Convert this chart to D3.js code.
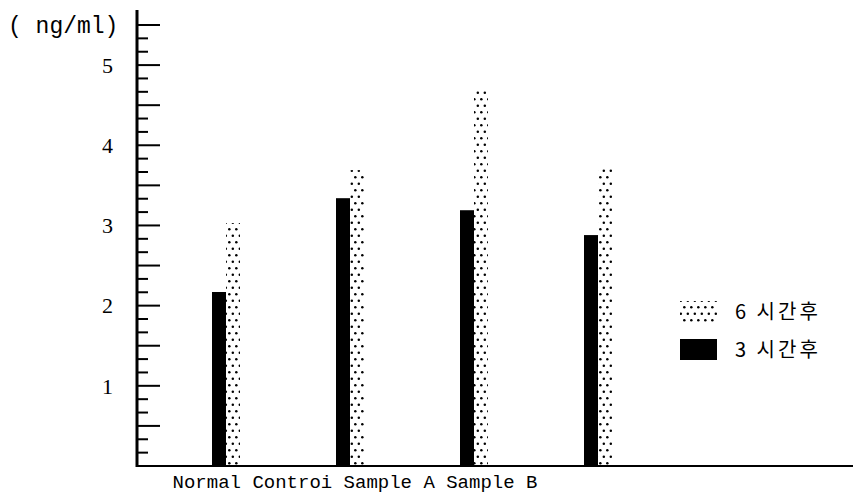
<!DOCTYPE html>
<html><head><meta charset="utf-8">
<script src="https://cdn.jsdelivr.net/npm/d3@7"></script>
<style>body{margin:0;background:#fff}</style>
</head><body>
<svg id="c" width="853" height="503"></svg>
<script>
const categories = ["Normal", "Controi", "Sample A", "Sample B"];
const series3h = [2.17, 3.34, 3.19, 2.88];
const series6h = [3.03, 3.69, 4.70, 3.73];
const seriesNames = ["6 시간후", "3 시간후"];
const yLabels = [1, 2, 3, 4, 5];
const unitLabel = "( ng/ml)";

const svg = d3.select("#c");
const defs = svg.append("defs");
const pat = defs.append("pattern").attr("id","dots").attr("patternUnits","userSpaceOnUse")
  .attr("width",7).attr("height",13);
pat.append("circle").attr("cx",1.8).attr("cy",1.8).attr("r",1.25).attr("fill","#000");
pat.append("circle").attr("cx",5.3).attr("cy",8.3).attr("r",1.25).attr("fill","#000");

const axisX = 137, base = 466;
const y = d3.scaleLinear().domain([0, 5.5]).range([base, 25]);
const x = d3.scalePoint().domain(categories).range([226, 598]);
const bw = 14;

// bars
const g = svg.append("g");
g.selectAll(".b3").data(categories).join("rect")
  .attr("x", d => x(d) - bw).attr("width", bw)
  .attr("y", (d,i) => y(series3h[i])).attr("height", (d,i) => base - y(series3h[i]))
  .attr("fill", "#000");
g.selectAll(".b6").data(categories).join("rect")
  .attr("x", d => x(d)).attr("width", bw)
  .attr("y", (d,i) => y(series6h[i])).attr("height", (d,i) => base - y(series6h[i]))
  .attr("fill", "url(#dots)");

// axes
svg.append("line").attr("x1",axisX).attr("x2",axisX).attr("y1",10).attr("y2",base+1)
  .attr("stroke","#000").attr("stroke-width",3);
svg.append("line").attr("x1",axisX-1).attr("x2",853).attr("y1",base).attr("y2",base)
  .attr("stroke","#000").attr("stroke-width",2);

const tickVals = d3.range(1, 34).map(i => i/6);
svg.selectAll(".tk").data(tickVals).join("line")
  .attr("x1", axisX).attr("x2", (d,i) => axisX + (((i+1)%3===0) ? 23 : 11))
  .attr("y1", d => y(d)).attr("y2", d => y(d))
  .attr("stroke","#000").attr("stroke-width",2);

svg.selectAll(".yl").data(yLabels).join("text")
  .attr("x", 113).attr("y", d => y(d)).attr("dy","0.35em")
  .attr("text-anchor","end").attr("font-family","Liberation Serif")
  .attr("font-size",22).text(d => d);

svg.append("text").attr("x",8).attr("y",33).attr("font-family","Liberation Mono")
  .attr("font-size",23).text(unitLabel);

svg.append("text").attr("x",355).attr("y",488).attr("text-anchor","middle")
  .attr("font-family","Liberation Mono").attr("font-size",19)
  .text(categories.join(" "));

// legend
const leg = svg.append("g");
const fills = ["url(#dots)", "#000"];
seriesNames.forEach((n,i) => {
  const cy = 312 + i*38;
  leg.append("rect").attr("x",680).attr("y",cy-11).attr("width",37).attr("height",21).attr("fill",fills[i]);
  leg.append("text").attr("x",735).attr("y",cy).attr("dy","0.36em")
    .attr("font-family","Noto Sans CJK KR").attr("font-size",20).attr("letter-spacing",3)
    .text(n);
});
</script>
</body></html>
